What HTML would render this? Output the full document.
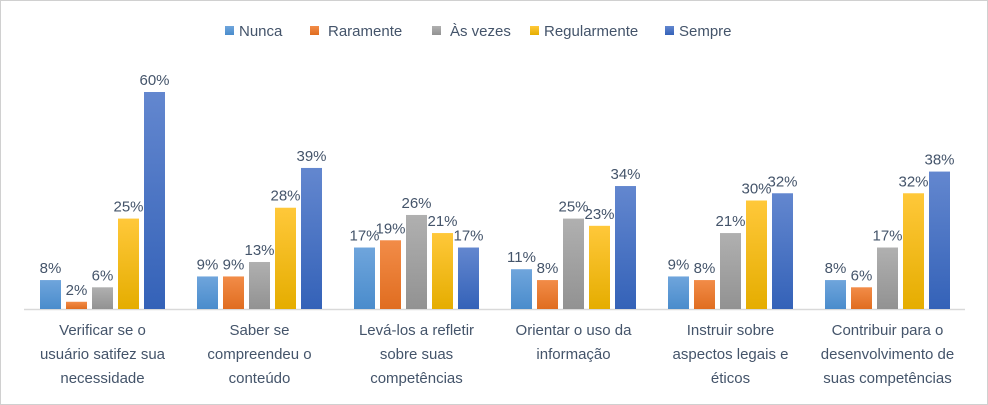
<!DOCTYPE html>
<html><head><meta charset="utf-8"><style>
body{margin:0;background:#fff}
svg{display:block;font-family:"Liberation Sans",sans-serif}
</style></head><body>
<svg id="c" width="988" height="405">
<defs>
<linearGradient id="g0" x1="0" y1="0" x2="0" y2="1"><stop offset="0" stop-color="#6fa5dc"/><stop offset="1" stop-color="#4a8ccc"/></linearGradient>
<linearGradient id="g1" x1="0" y1="0" x2="0" y2="1"><stop offset="0" stop-color="#f28c48"/><stop offset="1" stop-color="#e06d20"/></linearGradient>
<linearGradient id="g2" x1="0" y1="0" x2="0" y2="1"><stop offset="0" stop-color="#b0b0b0"/><stop offset="1" stop-color="#929292"/></linearGradient>
<linearGradient id="g3" x1="0" y1="0" x2="0" y2="1"><stop offset="0" stop-color="#ffc83a"/><stop offset="1" stop-color="#e5ad00"/></linearGradient>
<linearGradient id="g4" x1="0" y1="0" x2="0" y2="1"><stop offset="0" stop-color="#6387cf"/><stop offset="1" stop-color="#3462b8"/></linearGradient>
</defs>
<rect x="0.5" y="0.5" width="987" height="404" fill="#fff" stroke="#d0d0d0"/>
<line x1="24" y1="309.5" x2="965" y2="309.5" stroke="#d9d9d9" stroke-width="1.5"/>
<g id="legend"></g>
<g id="bars"></g>
<g id="labels"></g>
</svg>
<script>
const categories=[["Verificar se o","usuário satifez sua","necessidade"],["Saber se","compreendeu o","conteúdo"],["Levá-los a refletir","sobre suas","competências"],["Orientar o uso da","informação"],["Instruir sobre","aspectos legais e","éticos"],["Contribuir para o","desenvolvimento de","suas competências"]];
const seriesNames=["Nunca","Raramente","Às vezes","Regularmente","Sempre"];
const nunca=[8,9,17,11,9,8];
const raramente=[2,9,19,8,8,6];
const asVezes=[6,13,26,25,21,17];
const regularmente=[25,28,21,23,30,32];
const sempre=[60,39,17,34,32,38];
const series=[nunca,raramente,asVezes,regularmente,sempre];
const NS="http://www.w3.org/2000/svg";
const base=309,pxPer=217/60,x0=24,gw=157;
const y=v=>base-v*pxPer;
const gx=(g,s)=>x0+g*gw+16+s*26;
const txtCol="#44546a";
function mk(t,a,p){const e=document.createElementNS(NS,t);for(const k in a)e.setAttribute(k,a[k]);p.appendChild(e);return e;}
const bars=document.getElementById('bars'),labels=document.getElementById('labels'),legend=document.getElementById('legend');
series.forEach((arr,s)=>{arr.forEach((v,g)=>{
 const r=mk('rect',{x:gx(g,s),y:y(v),width:21,height:base-y(v),fill:`url(#g${s})`},bars);
 
 
 const t=mk('text',{x:gx(g,s)+10.5,y:y(v)-7,'text-anchor':'middle','font-size':15,fill:txtCol},labels);
 t.textContent=v+'%';
 
 
});});
categories.forEach((lines,g)=>{lines.forEach((l,i)=>{
 const t=mk('text',{x:x0+g*gw+78.5,y:335+i*24,'text-anchor':'middle','font-size':15,fill:txtCol},labels);
 t.textContent=l;
 
 
});});
const lx=[225,310,432,530,665];
seriesNames.forEach((n,s)=>{
 const r=mk('rect',{x:lx[s],y:26,width:9,height:9,fill:`url(#g${s})`},legend);
 
 
 const t=mk('text',{x:lx[s]+(s==1||s==2?18:14),y:36,'font-size':15,fill:txtCol},legend);
 t.textContent=n;
 
 
});
</script>
</body></html>
